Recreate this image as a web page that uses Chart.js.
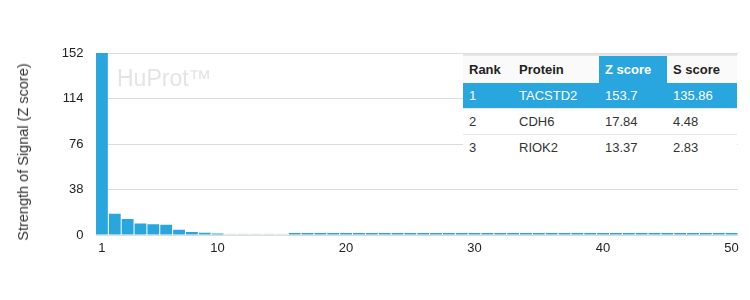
<!DOCTYPE html>
<html>
<head>
<meta charset="utf-8">
<script src="https://cdn.jsdelivr.net/npm/chart.js@4/dist/chart.umd.min.js"></script>
<style>
  html, body { margin: 0; padding: 0; background: #fff; }
  body { width: 750px; height: 300px; overflow: hidden; position: relative; font-family: "Liberation Sans", Arial, sans-serif; }
  #wrap { position: absolute; left: 0; top: 0; width: 750px; height: 300px; }
  #ytitle { position: absolute; left: 23px; top: 152px; transform: translate(-50%, -50%) rotate(-90deg); white-space: nowrap; font-size: 14.5px; color: #333; }
  #wm { position: absolute; left: 117px; top: 65px; font-size: 23px; color: #e4e4e4; white-space: nowrap; }
  #tbl { position: absolute; left: 463px; top: 54px; width: 274px; border-collapse: collapse; font-size: 13px; color: #333; border-top: 2px solid #e6e6e6; background: #fff; }
  #tbl th, #tbl td { padding: 0 0 0 6px; text-align: left; white-space: nowrap; }
  #tbl th { font-weight: bold; color: #222; height: 27px; background: #fafafa; }
  #tbl td { height: 25px; border-top: 1px solid #e8e8e8; }
  #tbl th.hl { background: #2aa6df; color: #fff; }
  #tbl tr.hl td { background: #2aa6df; color: #fff; border-top: none; }
</style>
</head>
<body>
<div id="wrap"><canvas id="c" width="750" height="300"></canvas></div>
<div id="ytitle">Strength of Signal (Z score)</div>
<div id="wm">HuProt™</div>
<table id="tbl"></table>
<script>
// ---- data ----
const ranks = Array.from({length: 50}, (_, i) => String(i + 1));
const zValues = [
  153.7, 17.84, 13.37, 9.6, 9.0, 8.5, 4.3, 2.6, 1.9, 1.3,
  1.1, 1.1, 1.1, 1.1, 1.1, 1.6, 1.6, 1.6, 1.6, 1.6,
  1.6, 1.6, 1.6, 1.6, 1.6, 1.6, 1.6, 1.6, 1.6, 1.6,
  1.6, 1.6, 1.6, 1.6, 1.6, 1.6, 1.6, 1.6, 1.6, 1.6,
  1.6, 1.6, 1.6, 1.6, 1.6, 1.6, 1.6, 1.6, 1.6, 1.6
];
const shownXTicks = ["1", "10", "20", "30", "40", "50"];
const yTicks = [0, 38, 76, 114, 152];

const tableHeaders = ["Rank", "Protein", "Z score", "S score"];
const tableRank = ["1", "2", "3"];
const tableProtein = ["TACSTD2", "CDH6", "RIOK2"];
const tableZ = ["153.7", "17.84", "13.37"];
const tableS = ["135.86", "4.48", "2.83"];

// ---- table ----
const tbl = document.getElementById('tbl');
const colW = [50, 86, 68, 70];
let html = '<tr>' + tableHeaders.map((h, i) =>
  `<th class="${i === 2 ? 'hl' : ''}" style="width:${colW[i] - 6}px">${h}</th>`).join('') + '</tr>';
for (let r = 0; r < tableRank.length; r++) {
  html += `<tr class="${r === 0 ? 'hl' : ''}"><td>${tableRank[r]}</td><td>${tableProtein[r]}</td><td>${tableZ[r]}</td><td>${tableS[r]}</td></tr>`;
}
tbl.innerHTML = html;

// ---- chart ----
const BLUE = '#2aa6df';
const PALE = '#c4dbe7';
new Chart(document.getElementById('c'), {
  type: 'bar',
  data: {
    labels: ranks,
    datasets: [{
      data: zValues,
      backgroundColor: ctx => (ctx.dataIndex >= 10 && ctx.dataIndex <= 14) ? PALE : BLUE,
      borderWidth: 0,
      barPercentage: 0.92,
      categoryPercentage: 1.0
    }]
  },
  options: {
    responsive: false,
    animation: false,
    layout: { padding: { left: 0, right: 12, top: 53, bottom: 0 } },
    plugins: { legend: { display: false }, tooltip: { enabled: false } },
    scales: {
      x: {
        grid: { display: false, drawTicks: false },
        border: { display: false },
        ticks: {
          autoSkip: false, maxRotation: 0, padding: 6,
          font: { family: 'Liberation Sans', size: 13 }, color: '#222',
          callback: function (v) { const l = this.getLabelForValue(v); return shownXTicks.includes(l) ? l : ''; }
        },
        afterFit: s => { s.height = 65; }
      },
      y: {
        min: 0, max: 152,
        afterBuildTicks: s => { s.ticks = yTicks.map(v => ({ value: v })); },
        grid: { color: '#dcdcdc', drawTicks: false, lineWidth: 1 },
        border: { display: false },
        ticks: { padding: 12, font: { family: 'Liberation Sans', size: 13 }, color: '#222' },
        afterFit: s => { s.width = 95.5; }
      }
    }
  }
});
</script>
</body>
</html>
